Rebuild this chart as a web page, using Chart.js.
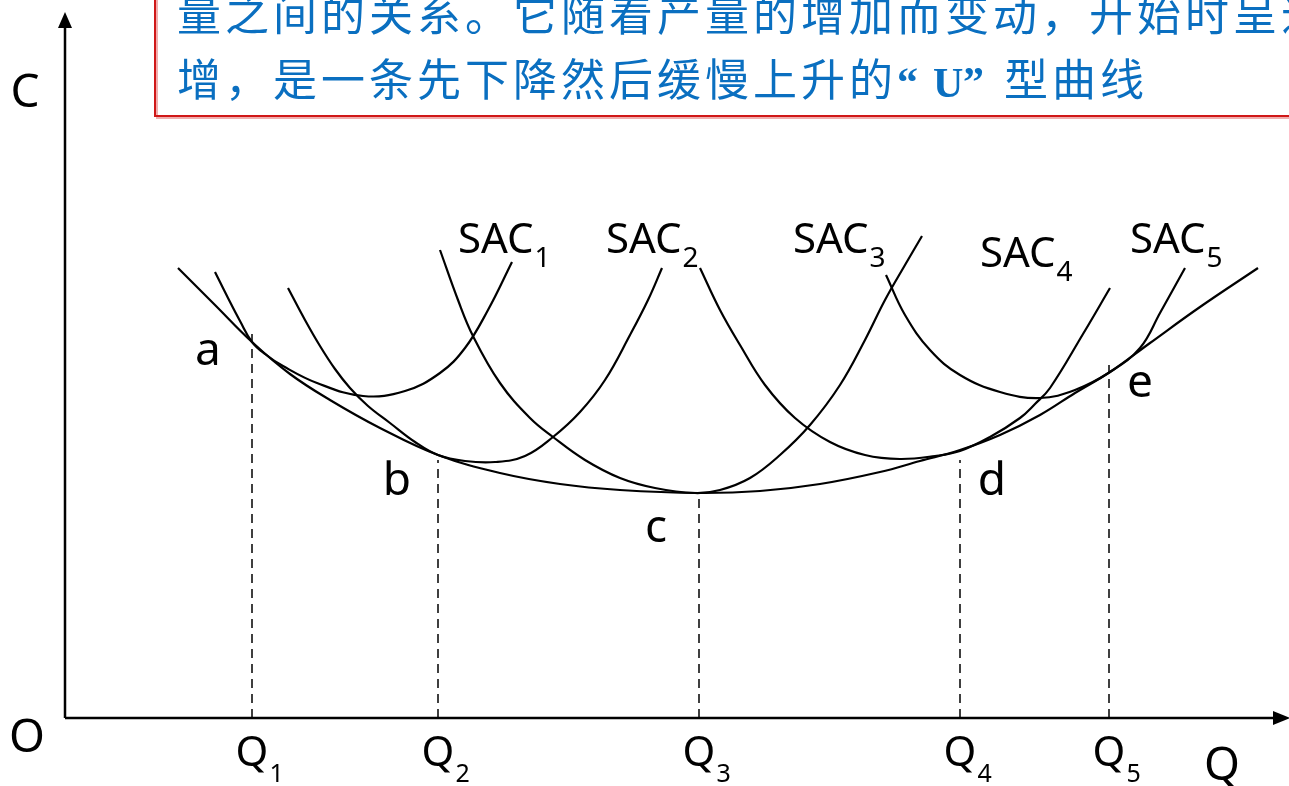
<!DOCTYPE html>
<html>
<head>
<meta charset="utf-8">
<script src="https://cdn.jsdelivr.net/npm/chart.js@4.4.1/dist/chart.umd.min.js"></script>
<style>
html,body{margin:0;padding:0;background:#fff;overflow:hidden;}
canvas{display:block;}
</style>
</head>
<body>
<canvas id="c" width="1289" height="786"></canvas>
<script>
// ---- Data (plot units: origin O at bottom-left of the axes) ----
const lacX = [113,150,187,225,265,315,373,435,495,555,634,695,755,815,855,895,935,975,1010,1045,1085,1135,1193];
const lacY = [450,413,376,344,318,290,263,245,234,228,225,227,234,246,257,268,283,303,325,346,375,411,450];

const sac1X = [150,163,175,187,200,218,252,298,340,375,400,423,447];
const sac1Y = [446,420,397,376,364,352,335,322,327,345,370,408,456];

const sac2X = [223,240,255,270,285,303,325,350,373,400,430,460,488,515,540,565,583,597];
const sac2Y = [430,398,372,349,330,312,295,276,263,257,256,262,281,306,338,383,418,450];

const sac3X = [375,393,408,435,465,488,520,555,590,630,655,685,715,745,775,800,820,840,857];
const sac3Y = [468,418,382,335,300,281,258,240,230,225,228,240,263,293,333,378,418,453,482];

const sac4X = [635,655,675,700,730,765,800,835,870,895,925,955,970,985,1018,1045];
const sac4Y = [450,408,373,333,300,276,263,259,262,267,281,300,314,330,384,430];

const sac5X = [821,840,865,895,935,975,1010,1045,1075,1095,1120];
const sac5Y = [443,403,368,343,326,320,328,346,370,405,450];

const qX    = [187,373,634,895,1044];        // Q1..Q5
const qTop  = [385,258,225,258,353];         // top of dashed guide
const qLabels = ['Q','Q','Q','Q','Q'];
const qSubs   = ['1','2','3','4','5'];
const pointLabels = ['a','b','c','d','e'];
const sacLabels = ['SAC','SAC','SAC','SAC','SAC'];
const sacSubs = ['1','2','3','4','5'];
const textLine1 = '量之间的关系。它随着产量的增加而变动，开始时呈递';
const textLine2a = '增，是一条先下降然后缓慢上升的';
const textLine2b = '型曲线';

// ---- Layout for annotations (in plot units) ----
const pointLabelPos = [[143,353],[332,223],[591,176],[927,223],[1075,321]];
const sacLabelPos = [[393,465],[541,465],[728,465],[915,451],[1065,465]];

function zip(xs, ys){ return xs.map((x,i)=>({x:x, y:ys[i]})); }

const curveStyle = {borderColor:'#000', borderWidth:2.2, pointRadius:0, fill:false, tension:0.4};
const datasets = [
  Object.assign({label:'LAC', data: zip(lacX, lacY)}, curveStyle),
  Object.assign({label:'SAC1', data: zip(sac1X, sac1Y)}, curveStyle),
  Object.assign({label:'SAC2', data: zip(sac2X, sac2Y)}, curveStyle),
  Object.assign({label:'SAC3', data: zip(sac3X, sac3Y)}, curveStyle),
  Object.assign({label:'SAC4', data: zip(sac4X, sac4Y)}, curveStyle),
  Object.assign({label:'SAC5', data: zip(sac5X, sac5Y)}, curveStyle)
];
qX.forEach((x,i)=>{
  datasets.push({label:'Q'+(i+1), data:[{x:x,y:0},{x:x,y:qTop[i]}], borderColor:'#000', borderWidth:1.5, borderDash:[9,6], pointRadius:0, fill:false, tension:0});
});

const annot = {
  id:'annot',
  afterDraw(chart){
    const ctx = chart.ctx;
    const xs = chart.scales.x, ys = chart.scales.y;
    const px = v => xs.getPixelForValue(v);
    const py = v => ys.getPixelForValue(v);
    const ox = px(0), oy = py(0);
    ctx.save();
    // axes
    ctx.strokeStyle = '#000'; ctx.fillStyle = '#000'; ctx.lineWidth = 2.5;
    ctx.beginPath(); ctx.moveTo(ox, oy); ctx.lineTo(ox, 26); ctx.stroke();
    ctx.beginPath(); ctx.moveTo(ox, oy); ctx.lineTo(1275, oy); ctx.stroke();
    ctx.beginPath(); ctx.moveTo(ox, 12); ctx.lineTo(ox-7, 28); ctx.lineTo(ox+7, 28); ctx.closePath(); ctx.fill();
    ctx.beginPath(); ctx.moveTo(1290, oy); ctx.lineTo(1273, oy-7); ctx.lineTo(1273, oy+7); ctx.closePath(); ctx.fill();

    const F = 'Noto Sans, DejaVu Sans, sans-serif';
    ctx.textBaseline = 'alphabetic';
    // axis letters
    ctx.font = '46px ' + F; ctx.textAlign = 'center';
    ctx.fillText('C', 25, 107);
    ctx.fillText('O', 27, 752);
    ctx.fillText('Q', 1222, 780);
    // point labels
    pointLabels.forEach((t,i)=>{ ctx.fillText(t, px(pointLabelPos[i][0]), py(pointLabelPos[i][1])); });
    // Q labels
    qX.forEach((x,i)=>{
      ctx.font = '42px ' + F; ctx.textAlign = 'center';
      const cx = px(x);
      ctx.fillText(qLabels[i], cx, 766);
      const w = ctx.measureText(qLabels[i]).width;
      ctx.font = '25px ' + F; ctx.textAlign = 'left';
      ctx.fillText(qSubs[i], cx + w/2 + 1, 782);
    });
    // SAC labels
    sacLabels.forEach((t,i)=>{
      const lx = px(sacLabelPos[i][0]), ly = py(sacLabelPos[i][1]);
      ctx.font = '42px ' + F; ctx.textAlign = 'left';
      ctx.fillText(t, lx, ly);
      const w = ctx.measureText(t).width;
      ctx.font = '28px ' + F;
      ctx.fillText(sacSubs[i], lx + w + 1, ly + 14);
    });
    // text box
    ctx.fillStyle = '#fff';
    ctx.fillRect(156, -10, 1200, 126);
    ctx.strokeStyle = 'rgba(230,120,120,0.6)'; ctx.lineWidth = 2;
    ctx.beginPath(); ctx.moveTo(157, -5); ctx.lineTo(157, 118); ctx.lineTo(1300, 118); ctx.stroke();
    ctx.strokeStyle = '#d01818'; ctx.lineWidth = 2;
    ctx.beginPath(); ctx.moveTo(155, -5); ctx.lineTo(155, 116); ctx.lineTo(1300, 116); ctx.stroke();
    ctx.fillStyle = '#0a6fc0';
    const CJK = '"Noto Sans CJK SC", "Noto Sans CJK JP", sans-serif';
    ctx.font = '400 44px ' + CJK; ctx.textAlign = 'left';
    if ('letterSpacing' in ctx) ctx.letterSpacing = '4px';
    ctx.fillText(textLine1, 177, 31);
    ctx.fillText(textLine2a, 177, 96);
    ctx.fillText(textLine2b, 1004, 96);
    if ('letterSpacing' in ctx) ctx.letterSpacing = '0px';
    ctx.font = 'bold 42px "Liberation Serif", serif';
    ctx.fillText('\u201C', 897, 96);
    ctx.fillText('U', 933, 97);
    ctx.fillText('\u201D', 963, 96);
    ctx.restore();
  }
};

new Chart(document.getElementById('c'), {
  type: 'line',
  data: { datasets: datasets },
  options: {
    responsive: false,
    animation: false,
    events: [],
    layout: { padding: 0 },
    plugins: { legend: {display:false}, tooltip: {enabled:false}, title:{display:false} },
    scales: {
      x: { type:'linear', min:-65, max:1224, display:false },
      y: { type:'linear', min:-68, max:718, display:false }
    }
  },
  plugins: [annot]
});
</script>
</body>
</html>
